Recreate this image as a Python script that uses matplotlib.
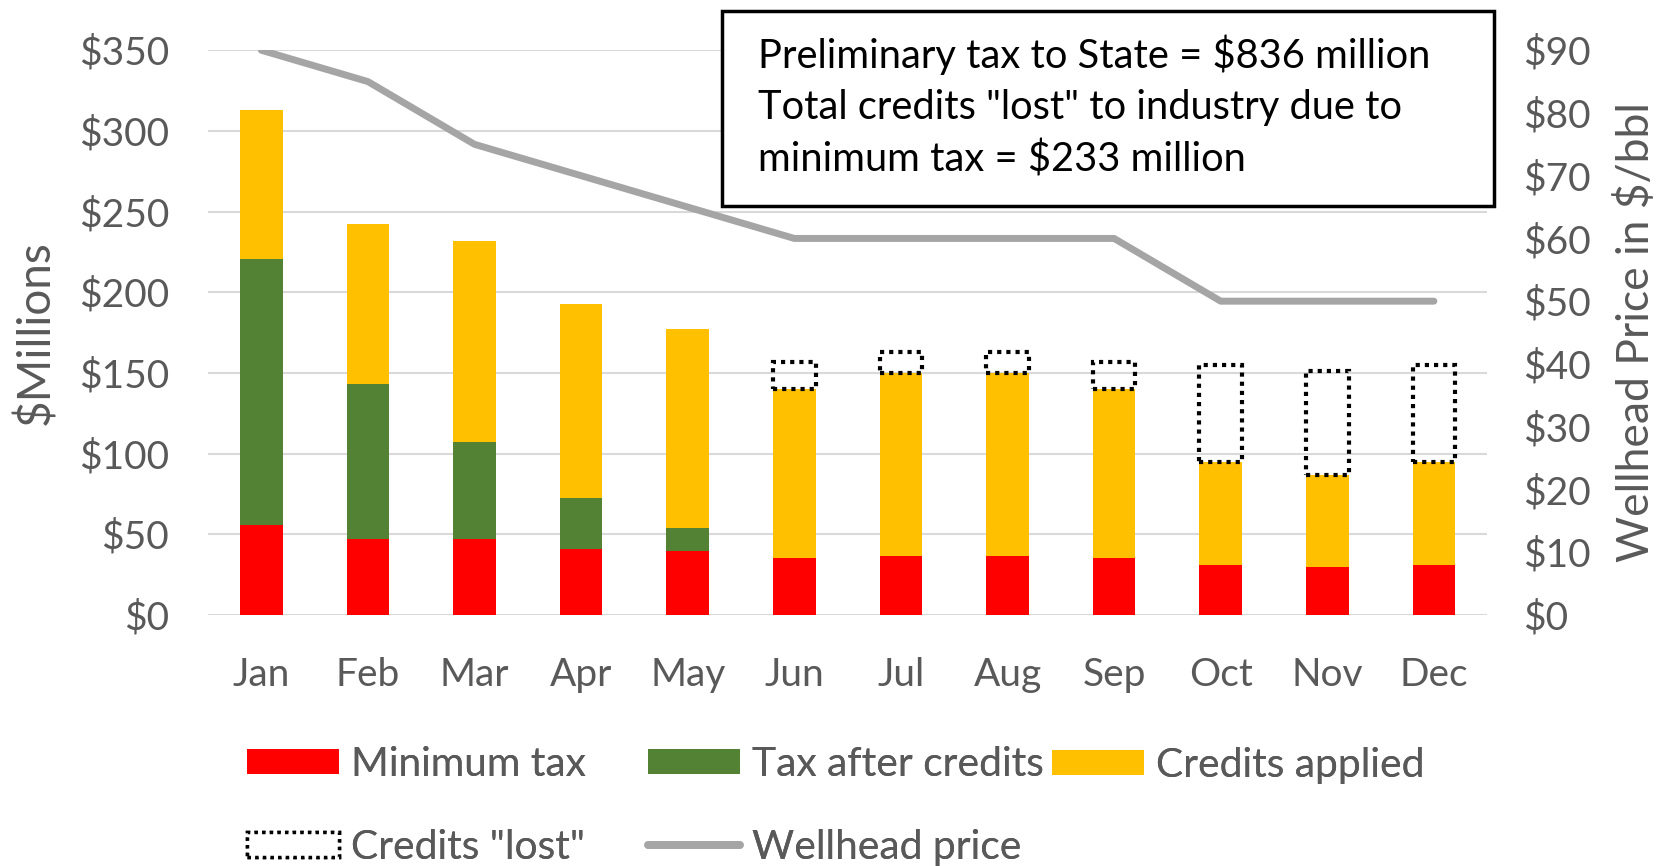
import matplotlib
matplotlib.use("Agg")
import matplotlib.pyplot as plt
from matplotlib.patches import Patch, Rectangle
from matplotlib.lines import Line2D
import numpy as np

months = ["Jan", "Feb", "Mar", "Apr", "May", "Jun", "Jul", "Aug", "Sep", "Oct", "Nov", "Dec"]
min_tax = [55.5, 47, 47, 41, 39.5, 35, 36.5, 36.5, 35, 31, 29.5, 31]
tax_after_credits = [165, 96, 60, 31.5, 14.5, 0, 0, 0, 0, 0, 0, 0]
credits_applied = [92.5, 99, 125, 120.5, 123, 105, 113.5, 113.5, 105, 64, 57.5, 64]
credits_lost = [0, 0, 0, 0, 0, 17, 13, 13, 17, 60, 64, 60]
wellhead_price = [90, 85, 75, 70, 65, 60, 60, 60, 60, 50, 50, 50]

left_ticks = [0, 50, 100, 150, 200, 250, 300, 350]
right_ticks = [0, 10, 20, 30, 40, 50, 60, 70, 80, 90]

box_lines = ["Preliminary tax to State = $836 million",
             "Total credits \"lost\" to industry due to",
             "minimum tax = $233 million"]

RED = "#FF0000"
GREEN = "#548235"
YELLOW = "#FFC000"
GRAY = "#A5A5A5"
TXT = "#595959"
FONT = "Lato"
DOTS = (0, (1, 1.2))

plt.rcParams['font.family'] = [FONT, 'DejaVu Sans']

fig = plt.figure(figsize=(16.71, 8.66), dpi=100)
ax = fig.add_axes([0.1245, 0.290, 0.7655, 0.652])
ax2 = ax.twinx()

x = np.arange(len(months))
w = 0.40
mt = np.array(min_tax)
ta = np.array(tax_after_credits)
ca = np.array(credits_applied)
cl = np.array(credits_lost)

ax.bar(x, mt, w, color=RED, zorder=3)
ax.bar(x, ta, w, bottom=mt, color=GREEN, zorder=3)
ax.bar(x, ca, w, bottom=mt + ta, color=YELLOW, zorder=3)
mask = cl > 0
ax.bar(x[mask], cl[mask], w, bottom=(mt + ta + ca)[mask], facecolor="none",
       edgecolor="black", linestyle=DOTS, linewidth=3, zorder=4)

ax.set_ylim(0, 350)
ax.set_xlim(-0.5, len(months) - 0.5)
ax.set_yticks(left_ticks)
ax.set_yticklabels([f"${v}" for v in left_ticks])
ax.set_xticks(x)
ax.set_xticklabels(months)
ax.yaxis.grid(True, color="#D9D9D9", linewidth=1.5, zorder=0)
ax.set_axisbelow(True)
for s in ax.spines.values():
    s.set_visible(False)
for s in ax2.spines.values():
    s.set_visible(False)
ax.tick_params(axis="both", length=0, labelsize=28, labelcolor=TXT)
ax.tick_params(axis="y", pad=28)
ax.tick_params(axis="x", pad=30)
ax.set_ylabel("$Millions", fontsize=33, color=TXT)
ax.yaxis.set_label_coords(-0.135, 0.5)
ax.yaxis.label.set_va("center")

ax2.plot(x, wellhead_price, color=GRAY, linewidth=5, solid_capstyle="round",
         solid_joinstyle="round", zorder=5)
ax2.set_ylim(0, 90)
ax2.set_yticks(right_ticks)
ax2.set_yticklabels([f"${v}" for v in right_ticks])
ax2.tick_params(axis="y", length=0, labelsize=28, labelcolor=TXT, pad=26)
ax2.set_ylabel("Wellhead Price in $/bbl", fontsize=32, color=TXT)
ax2.yaxis.set_label_coords(1.1165, 0.5)
ax2.yaxis.label.set_va("center")

# annotation box
rect = Rectangle((0.432, 0.762), 0.462, 0.225, transform=fig.transFigure,
                 facecolor="white", edgecolor="black", linewidth=2.5, zorder=10)
fig.patches.append(rect)
for i, line in enumerate(box_lines):
    fig.text(0.4536, 1 - (55 + 52.5 * i) / 866, line, fontsize=28.7, color="black",
             va="center", ha="left", zorder=11)

# legend: three columns at fixed positions
cols = [
    ([Patch(facecolor=RED, edgecolor="none"),
      Patch(facecolor="white", edgecolor="black", linestyle=DOTS, linewidth=2.5)],
     ["Minimum tax", "Credits \"lost\""], 247 / 1671),
    ([Patch(facecolor=GREEN, edgecolor="none"),
      Line2D([0], [0], color=GRAY, linewidth=5.5, solid_capstyle="round")],
     ["Tax after credits", "Wellhead price"], 648 / 1671),
    ([Patch(facecolor=YELLOW, edgecolor="none")],
     ["Credits applied"], 1052 / 1671),
]
for handles, labels, xpos in cols:
    n = len(handles)
    ycenter = (765 + 847) / 2 if n == 2 else 765
    leg = fig.legend(handles, labels, loc="center left",
                     bbox_to_anchor=(xpos, 1 - ycenter / 866), frameon=False,
                     fontsize=29.3, handlelength=2.25, handleheight=0.56,
                     handletextpad=0.3, labelspacing=1.12, labelcolor=TXT,
                     borderaxespad=0, borderpad=0)
    fig.add_artist(leg)

fig.savefig("out.png", dpi=100)
